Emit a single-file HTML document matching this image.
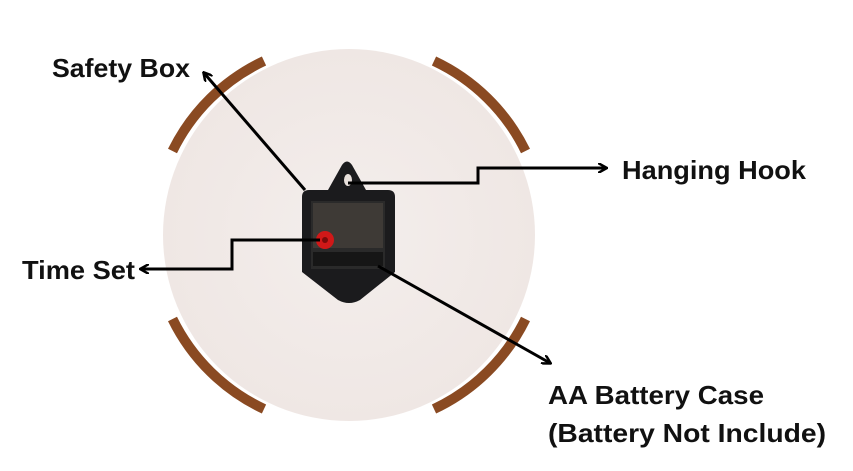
<!DOCTYPE html>
<html><head><style>
html,body{margin:0;padding:0;background:#fff;width:853px;height:471px;overflow:hidden}
text{font-family:"Liberation Sans",sans-serif;font-weight:bold;fill:#111}
</style></head><body>
<svg width="853" height="471" viewBox="0 0 853 471" xmlns="http://www.w3.org/2000/svg">
<defs>
<marker id="a" markerWidth="10" markerHeight="10" refX="8" refY="5" orient="auto" markerUnits="userSpaceOnUse">
<path d="M0,0 L9,5 L0,10" fill="none" stroke="#000" stroke-width="2.5"/>
</marker>
<radialGradient id="g" cx="0.5" cy="0.5" r="0.5">
<stop offset="0" stop-color="#f4eeec"/><stop offset="1" stop-color="#efe7e4"/>
</radialGradient>
</defs>
<g fill="none" stroke="#8a4a22" stroke-width="10">
<path d="M172.5,151.0 A193,193 0 0 1 264.0,61.0"/>
<path d="M434.0,61.0 A193,193 0 0 1 525.5,151.0"/>
<path d="M172.5,319.0 A193,193 0 0 0 264.0,409.0"/>
<path d="M434.0,409.0 A193,193 0 0 0 525.5,319.0"/>
</g>
<circle cx="349" cy="235" r="186" fill="url(#g)"/>
<path d="M302,197 Q302,190 309,190 L328,190 L342,165 Q347,158 352,165 L366,190 L388,190 Q395,190 395,197 L395,272 L360,300 Q349,306 338,300 L302,272 Z" fill="#1b1b1d"/>
<rect x="311" y="201" width="74" height="68" fill="#2a2a2a"/>
<rect x="313" y="203" width="70" height="45" fill="#3e3a36"/>
<rect x="313" y="252" width="70" height="14" fill="#161616"/>
<ellipse cx="348" cy="180" rx="4" ry="6" fill="#e8e0dc"/>
<circle cx="325" cy="240" r="9" fill="#d01818"/>
<circle cx="325" cy="240" r="3" fill="#7a0a0a"/>
<g fill="none" stroke="#000" stroke-width="3">
<path d="M305,190 L204,73" marker-end="url(#a)"/>
<path d="M348,183 L478,183 L478,168 L606,168" marker-end="url(#a)"/>
<path d="M320,240 L232,240 L232,269 L141,269" marker-end="url(#a)"/>
<path d="M378,266 L550,363" marker-end="url(#a)"/>
</g>
<text x="52" y="77" font-size="26" textLength="138" lengthAdjust="spacingAndGlyphs">Safety Box</text>
<text x="622" y="179" font-size="26" textLength="184" lengthAdjust="spacingAndGlyphs">Hanging Hook</text>
<text x="22" y="279" font-size="26" textLength="113" lengthAdjust="spacingAndGlyphs">Time Set</text>
<text x="548" y="404" font-size="26" textLength="216" lengthAdjust="spacingAndGlyphs">AA Battery Case</text>
<text x="548" y="442" font-size="26" textLength="278" lengthAdjust="spacingAndGlyphs">(Battery Not Include)</text>
</svg>
</body></html>
